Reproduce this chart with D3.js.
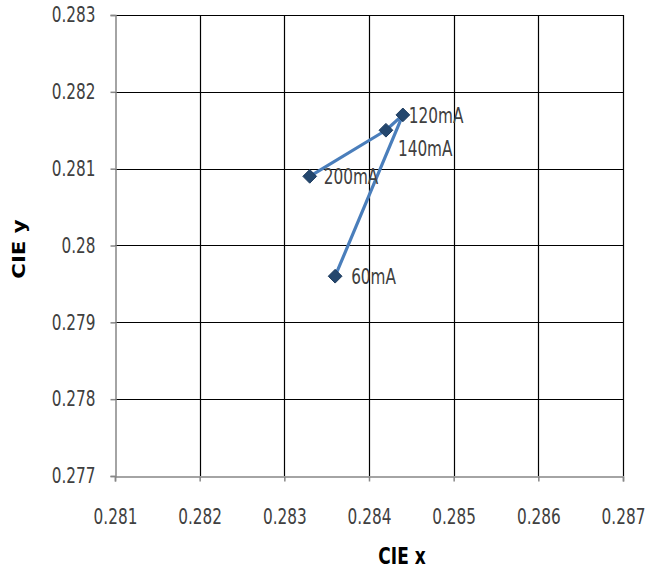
<!DOCTYPE html>
<html><head><meta charset="utf-8">
<script src="https://cdn.jsdelivr.net/npm/d3@7"></script>
<style>body{margin:0;background:#fff}</style>
</head><body>
<script>
const currents = ["60mA","120mA","140mA","200mA"];
const cieX = [0.2836,0.2844,0.2842,0.2833];
const cieY = [0.2796,0.2817,0.2815,0.2809];
const xTicks = [0.281,0.282,0.283,0.284,0.285,0.286,0.287];
const yTicks = [0.277,0.278,0.279,0.28,0.281,0.282,0.283];
const labelOffsets = [[16,2],[6,2],[12,20],[14,2]];

const W=648,H=576, S=1.25;
const svg=d3.select("body").append("svg").attr("width",W).attr("height",H);
const m={l:115,r:25,t:15,b:100};
const x=d3.scaleLinear().domain([0.281,0.287]).range([m.l,W-m.r]);
const y=d3.scaleLinear().domain([0.277,0.283]).range([H-m.b,m.t]);
const font='"DejaVu Sans Condensed","DejaVu Sans",sans-serif';

// grid
svg.append("g").selectAll("line").data(xTicks.slice(1)).join("line")
 .attr("x1",d=>Math.round(x(d))+0.5).attr("x2",d=>Math.round(x(d))+0.5)
 .attr("y1",y(0.283)).attr("y2",y(0.277)).attr("stroke","#000").attr("stroke-width",1.2);
svg.append("g").selectAll("line").data(yTicks.slice(1)).join("line")
 .attr("y1",d=>Math.round(y(d))+0.5).attr("y2",d=>Math.round(y(d))+0.5)
 .attr("x1",x(0.281)).attr("x2",x(0.287)).attr("stroke","#000").attr("stroke-width",1.2);

// axes
const fmt=d=>String(+d.toFixed(3));
const ax=svg.append("g").attr("transform",`translate(0,${Math.round(y(0.277))+0.5})`)
 .call(d3.axisBottom(x).tickValues(xTicks).tickFormat(fmt).tickSize(5).tickPadding(21));
const ay=svg.append("g").attr("transform",`translate(${Math.round(x(0.281))+0.5},0)`)
 .call(d3.axisLeft(y).tickValues(yTicks).tickFormat(fmt).tickSize(5).tickPadding(15));
[ax,ay].forEach(g=>{
  g.select(".domain").attr("stroke","#868686").attr("stroke-width",1.5);
  g.selectAll(".tick line").attr("stroke","#868686").attr("stroke-width",1.5);
  g.selectAll(".tick text").attr("fill","#404040").style("font-family",font).style("font-size","17px")
   .attr("transform",`scale(1,${S})`);
});

// series line
const pts=currents.map((c,i)=>({c,x:cieX[i],y:cieY[i],o:labelOffsets[i]}));
svg.append("path").datum(pts)
 .attr("d",d3.line().x(d=>x(d.x)).y(d=>y(d.y)))
 .attr("fill","none").attr("stroke","#4a7ebb").attr("stroke-width",3.2).attr("stroke-linejoin","round");
svg.append("g").selectAll("path").data(pts).join("path")
 .attr("d",d3.symbol().type(d3.symbolDiamond2).size(120))
 .attr("transform",d=>`translate(${x(d.x)},${y(d.y)})`)
 .attr("fill","#24476e").attr("stroke","#1f3d5f").attr("stroke-width",1);
svg.append("g").selectAll("text").data(pts).join("text")
 .attr("transform",d=>`translate(${x(d.x)+d.o[0]},${y(d.y)+d.o[1]}) scale(1,${S})`)
 .attr("dominant-baseline","middle")
 .style("font-family",font).style("font-size","17px").attr("fill","#404040")
 .text(d=>d.c);

// titles
svg.append("text").attr("transform",`translate(402,558) scale(1,1.3)`).attr("text-anchor","middle")
 .attr("dominant-baseline","middle")
 .style("font-family","DejaVu Sans,sans-serif").style("font-weight","bold").style("font-size","17px").text("CIE x");
svg.append("text").attr("transform",`translate(20,249) rotate(-90) scale(1.25,1)`).attr("text-anchor","middle")
 .attr("dominant-baseline","middle")
 .style("font-family","DejaVu Sans,sans-serif").style("font-weight","bold").style("font-size","17px").text("CIE y");
</script>
</body></html>
